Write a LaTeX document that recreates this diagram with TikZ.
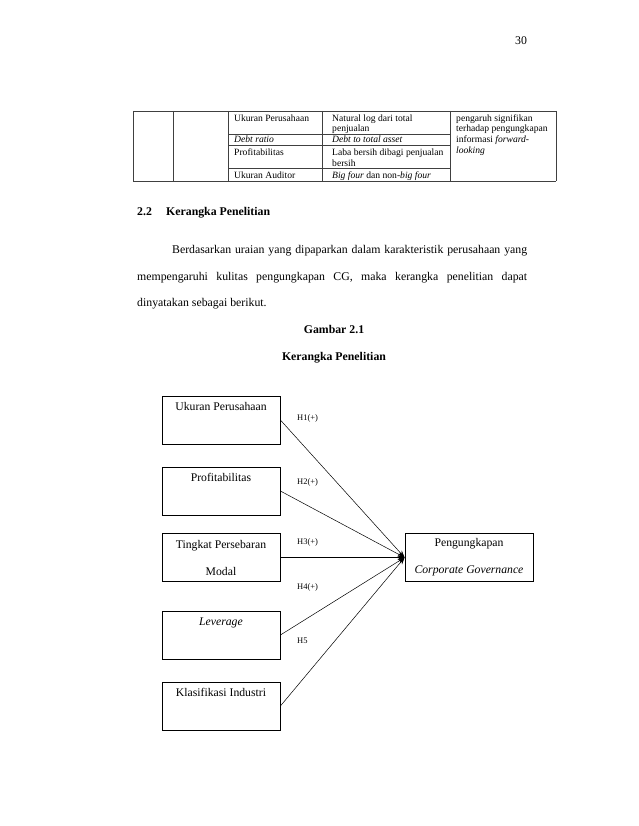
\documentclass[tikz,border=0pt]{standalone}
\usepackage{fontspec}
\setmainfont{Liberation Serif}
\usetikzlibrary{arrows.meta}
\tikzset{
  body/.style={font=\fontsize{11.8}{13}\selectfont, inner sep=0pt},
  bodyb/.style={font=\fontsize{11.8}{13}\selectfont\bfseries, inner sep=0pt},
  tbl/.style={font=\fontsize{9.6}{11}\selectfont, inner sep=0pt, anchor=base west},
  tline/.style={draw=black!75, line width=0.6pt},
  varbox/.style={draw=black, line width=0.8pt, minimum width=118pt, minimum height=48pt, inner sep=0pt, align=center, font=\fontsize{11.7}{27}\selectfont},
  hyp/.style={font=\fontsize{8.5}{10}\selectfont, inner sep=0pt, anchor=west},
  conn/.style={draw=black, line width=0.5pt, -{Stealth[length=7pt,width=5pt]}}
}
\begin{document}
\begin{tikzpicture}[x=1pt,y=-1pt]
\useasboundingbox (0,0) rectangle (638,826);
% page number
\node[body, anchor=base] (pg) at (521,45) {30};
% table
\draw[tline] (133,111) -- (556,111);
\draw[tline] (133,181) -- (556,181);
\foreach \x in {133,173,228,322,450,556} \draw[tline] (\x,111) -- (\x,181);
\foreach \y in {134,145,168} \draw[tline] (228,\y) -- (450,\y);
\node[tbl] (t1) at (234,121.5) {Ukuran Perusahaan};
\node[tbl] (t2) at (234,142.5) {\textit{Debt ratio}};
\node[tbl] (t3) at (234,155.5) {Profitabilitas};
\node[tbl] (t4) at (234,178.5) {Ukuran Auditor};
\node[tbl] (u1) at (332,121.5) {Natural log dari total};
\node[tbl] (u2) at (332,131.5) {penjualan};
\node[tbl] (u3) at (332,142.5) {\textit{Debt to total asset}};
\node[tbl] (u4) at (332,155.5) {Laba bersih dibagi penjualan};
\node[tbl] (u5) at (332,166.5) {bersih};
\node[tbl] (u6) at (332,178.5) {\textit{Big four} dan non-\textit{big four}};
\node[tbl] (v1) at (456,121.5) {pengaruh signifikan};
\node[tbl] (v2) at (456,132) {terhadap pengungkapan};
\node[tbl] (v3) at (456,142.5) {informasi \textit{forward-}};
\node[tbl] (v4) at (456,153.5) {\textit{looking}};
% heading and paragraph
\node[bodyb, anchor=base west] (h1) at (137,215) {2.2};
\node[bodyb, anchor=base west] (h2) at (166,215) {Kerangka Penelitian};
\node[body, anchor=base west] (p1) at (172,253) {\makebox[355pt][s]{Berdasarkan uraian yang dipaparkan dalam karakteristik perusahaan yang}};
\node[body, anchor=base west] (p2) at (137,280) {\makebox[390pt][s]{mempengaruhi kulitas pengungkapan CG, maka kerangka penelitian dapat}};
\node[body, anchor=base west] (p3) at (137,306) {dinyatakan sebagai berikut.};
\node[bodyb, anchor=base] (g1) at (334,333) {Gambar 2.1};
\node[bodyb, anchor=base] (g2) at (334,360) {Kerangka Penelitian};
% diagram
\node[varbox] (b1) at (221,420) {Ukuran Perusahaan\\\mbox{}};
\node[varbox] (b2) at (221,491) {Profitabilitas\\\mbox{}};
\node[varbox] (b3) at (221,557.5) {Tingkat Persebaran\\Modal};
\node[varbox] (b4) at (221,635) {\textit{Leverage}\\\mbox{}};
\node[varbox] (b5) at (221,706) {Klasifikasi Industri\\\mbox{}};
\node[varbox, minimum width=128pt] (y) at (469,557.5) {Pengungkapan\\\textit{Corporate Governance}};
\foreach \b in {b1,b2,b3,b4,b5} \draw[conn] (\b.east) -- (y.west);
\node[hyp] (l1) at (297,418) {H1(+)};
\node[hyp] (l2) at (297,482) {H2(+)};
\node[hyp] (l3) at (297,542) {H3(+)};
\node[hyp] (l4) at (297,587) {H4(+)};
\node[hyp] (l5) at (297,641) {H5};
\end{tikzpicture}
\end{document}
